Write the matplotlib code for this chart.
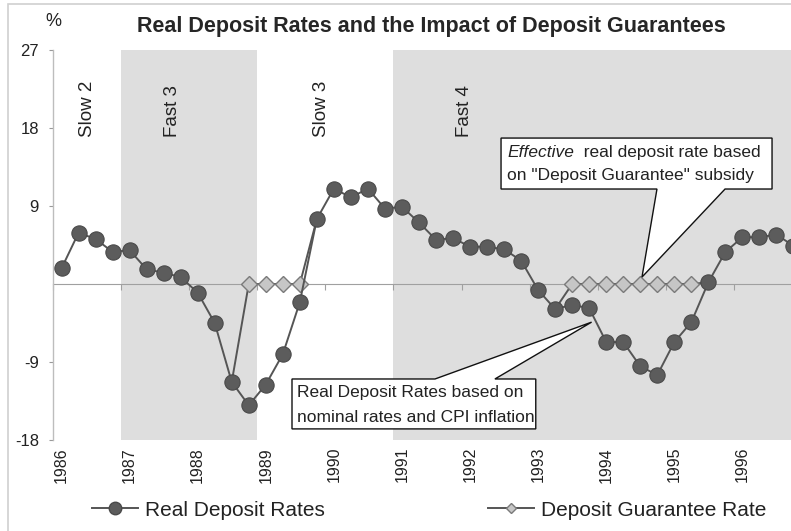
import numpy as np
import matplotlib
matplotlib.use("Agg")
import matplotlib.pyplot as plt
from matplotlib.patches import Polygon, Rectangle
from matplotlib.lines import Line2D

plt.rcParams['font.family'] = ['Liberation Sans', 'DejaVu Sans']

# --- data: quarterly real deposit rates, 1986Q1 .. 1996Q4 ---
start_year = 1986
real_rates = [1.8, 5.9, 5.2, 3.7, 3.9, 1.7, 1.3, 0.8,
              -1.0, -4.5, -11.3, -14.0, -11.6, -8.1, -2.1, 7.5,
              11.0, 10.0, 11.0, 8.7, 8.9, 7.1, 5.1, 5.3,
              4.3, 4.3, 4.0, 2.7, -0.7, -2.9, -2.4, -2.8,
              -6.7, -6.7, -9.5, -10.5, -6.7, -4.4, 0.2, 3.7,
              5.4, 5.4, 5.7, 4.4]
# quarters (index from 1986Q1) covered by the deposit guarantee
guarantee_windows = [(11, 14), (30, 37)]
guarantee_level = 0.0

year_ticks = list(range(1986, 1997))
ytick_vals = [-18, -9, 9, 18, 27]
shaded = [(1987, 1989), (1991, 1997)]
phase_labels = ["Slow 2", "Fast 3", "Slow 3", "Fast 4"]
phase_x = [1986.5, 1987.75, 1989.95, 1992.05]

n = len(real_rates)
xq = start_year + (np.arange(n) + 0.5) / 4.0
real = np.array(real_rates)

# guarantee series: 0 inside windows, joined to the real rate at the edges
guar = np.full(n, np.nan)
for a, b in guarantee_windows:
    guar[a:b + 1] = guarantee_level
    guar[a - 1] = real[a - 1]
    guar[b + 1] = real[b + 1]
guar_marks = list(guar == guarantee_level)

# --- figure ---
W, H = 791, 531
fig = plt.figure(figsize=(W / 100, H / 100), dpi=100)
ax = fig.add_axes([53 / W, 91 / H, 749 / W, 390 / H])

line_col = '#555555'
for a, b in shaded:
    ax.axvspan(a, b, color='#dedede', lw=0, zorder=0)

ax.plot(xq, guar, color=line_col, lw=1.4, marker='D', ms=7.8,
        mfc='#c6c6c6', mec='#7a7a7a', mew=1.0, markevery=guar_marks, zorder=3)
ax.plot(xq, real, color=line_col, lw=1.4, marker='o', ms=11,
        mfc='#5c5c5c', mec='#4a4a4a', mew=0.8, zorder=4)

ax.set_xlim(1986, 1997)
ax.set_ylim(-18, 27)

for s in ['top', 'right', 'bottom']:
    ax.spines[s].set_visible(False)
ax.spines['left'].set_color('#bdbdbd')
ax.spines['left'].set_linewidth(1.0)

ax.set_yticks(ytick_vals)
ax.set_yticklabels([str(v) for v in ytick_vals], fontsize=12, color='#222222')
ax.tick_params(axis='y', direction='out', length=3, color='#999999', pad=7)

ax.set_xticks([y + 0.125 for y in year_ticks])
ax.set_xticklabels([str(y) for y in year_ticks], rotation=90, fontsize=11.5,
                   color='#222222')
ax.tick_params(axis='x', length=0, pad=5)

# zero line with year-boundary ticks
sec = ax.secondary_xaxis(18 / 45)
sec.set_xticks(year_ticks)
sec.set_xticklabels([])
sec.spines['bottom'].set_color('#a0a0a0')
sec.tick_params(axis='x', direction='out', length=4, color='#a0a0a0')

for lab, px in zip(phase_labels, phase_x):
    ax.text(px, 17.0, lab, rotation=90, ha='center', va='bottom',
            fontsize=13.5, color='#222222', zorder=5)

# --- callouts ---
def callout(x0, x1, y0, y1, b0, b1, tip, on_top):
    if on_top:
        pts = [(x0, y0), (x1, y0), (x1, y1), (b1, y1), tip, (b0, y1), (x0, y1)]
    else:
        pts = [(x0, y1), (x1, y1), (x1, y0), (b1, y0), tip, (b0, y0), (x0, y0)]
    ax.add_patch(Polygon(pts, closed=True, fc='white', ec='#111111',
                         lw=1.0, zorder=6, clip_on=False))

callout(1992.58, 1996.56, 10.96, 16.84, 1994.87, 1995.87, (1994.65, 0.8), False)
t1 = ax.text(1992.67, 15.2, "Effective", style='italic', fontsize=12.5,
             ha='left', va='center', color='#222222', zorder=7)
ax.annotate("  real deposit rate based", xy=(1, 0.5), xycoords=t1,
            ha='left', va='center', fontsize=12.5, color='#222222', zorder=7)
ax.text(1992.67, 12.55, 'on "Deposit Guarantee" subsidy', fontsize=12.5,
        ha='left', va='center', color='#222222', zorder=7)

callout(1989.51, 1993.09, -16.72, -10.96, 1991.61, 1992.49, (1993.91, -4.4), True)
ax.text(1989.58, -12.55, "Real Deposit Rates based on", fontsize=12.5,
        ha='left', va='center', color='#222222', zorder=7)
ax.text(1989.58, -15.45, "nominal rates and CPI inflation", fontsize=12.5,
        ha='left', va='center', color='#222222', zorder=7)

# --- titles ---
fig.text(431 / W, 1 - 32 / H, "Real Deposit Rates and the Impact of Deposit Guarantees",
         ha='center', va='baseline', fontsize=15.5, fontweight='bold', color='#262626')
fig.text(53 / W, 1 - 22 / H, "%", ha='center', va='center', fontsize=13,
         color='#222222')

# --- legend ---
h_real = Line2D([], [], color=line_col, lw=1.4, marker='o', ms=9,
                mfc='#5c5c5c', mec='#4a4a4a')
h_guar = Line2D([], [], color=line_col, lw=1.4, marker='D', ms=5,
                mfc='#c6c6c6', mec='#7a7a7a')
for h, lab, x in [(h_real, "Real Deposit Rates", 92),
                  (h_guar, "Deposit Guarantee Rate", 488)]:
    leg = fig.legend(handles=[h], labels=[lab], loc='center left',
                     bbox_to_anchor=(x / W, 1 - 510 / H), frameon=False,
                     fontsize=15, borderpad=0, borderaxespad=0,
                     handlelength=2.2, handletextpad=0.35)
    for t in leg.get_texts():
        t.set_color('#222222')

# chart frame
fig.add_artist(Rectangle((8 / W, -0.1), 2, 1.1 - 4 / H, transform=fig.transFigure,
                         fill=False, ec='#d0d0d0', lw=1.2))

fig.savefig("out.png", dpi=100)
